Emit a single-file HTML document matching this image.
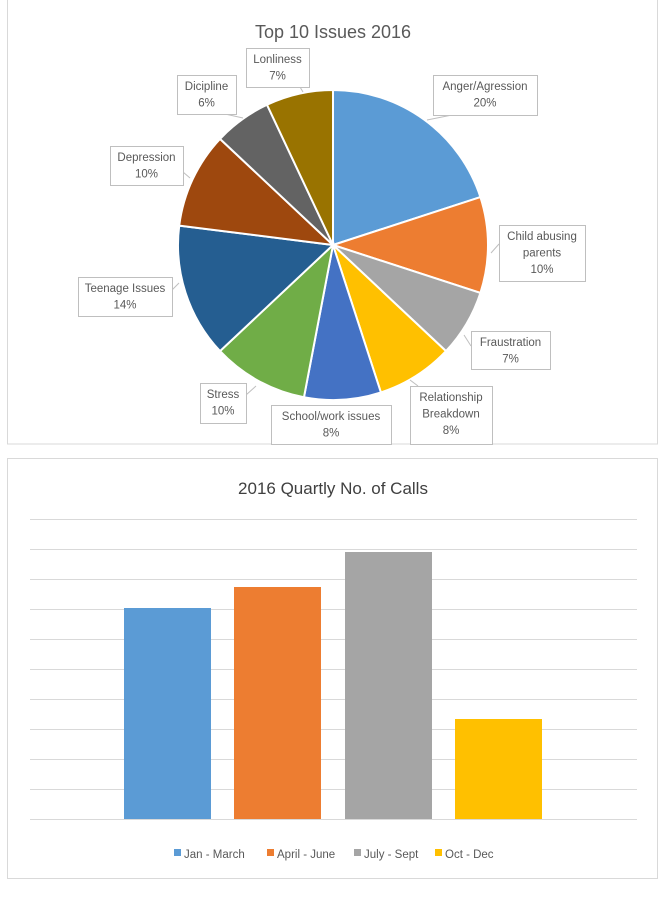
<!DOCTYPE html>
<html><head><meta charset="utf-8"><style>
body{margin:0;background:#fff;width:666px;height:893px;overflow:hidden;font-family:"Liberation Sans",sans-serif}
</style></head><body>
<svg id="s" width="666" height="893" xmlns="http://www.w3.org/2000/svg" font-family="Liberation Sans, sans-serif">
<rect x="7.5" y="-1" width="650" height="445" fill="#fff" stroke="#d9d9d9"/>
<rect x="7.5" y="458.5" width="650" height="420" fill="#fff" stroke="#d9d9d9"/>
<text x="333" y="38" text-anchor="middle" font-size="18" fill="#595959">Top 10 Issues 2016</text>
<g id="pie"></g>
<g stroke="#bfbfbf" fill="none">
<polyline points="452,115 427,120"/>
<polyline points="499,244 491,253"/>
<polyline points="471,346 464,335"/>
<polyline points="418,386 410,380"/>
<polyline points="300,87 303,92"/>
<polyline points="225,114 243,118"/>
<polyline points="183,172 190,178"/>
<polyline points="172,290 179,283"/>
<polyline points="246,395 256,386"/>
</g>
<g id="lbl" font-size="11.5" fill="#595959" text-anchor="middle"></g>
<text x="333" y="494" text-anchor="middle" font-size="17" fill="#404040">2016 Quartly No. of Calls</text>
<g stroke="#d9d9d9" stroke-width="1">
<line x1="30" x2="637" y1="519.5" y2="519.5"/><line x1="30" x2="637" y1="549.5" y2="549.5"/>
<line x1="30" x2="637" y1="579.5" y2="579.5"/><line x1="30" x2="637" y1="609.5" y2="609.5"/>
<line x1="30" x2="637" y1="639.5" y2="639.5"/><line x1="30" x2="637" y1="669.5" y2="669.5"/>
<line x1="30" x2="637" y1="699.5" y2="699.5"/><line x1="30" x2="637" y1="729.5" y2="729.5"/>
<line x1="30" x2="637" y1="759.5" y2="759.5"/><line x1="30" x2="637" y1="789.5" y2="789.5"/>
<line x1="30" x2="637" y1="819.5" y2="819.5"/>
</g>
<rect x="124" y="608" width="87" height="211" fill="#5b9bd5"/>
<rect x="234" y="587" width="87" height="232" fill="#ed7d31"/>
<rect x="345" y="552" width="87" height="267" fill="#a5a5a5"/>
<rect x="455" y="719" width="87" height="100" fill="#ffc000"/>
<g font-size="11.5" fill="#595959">
<rect x="174" y="849" width="7" height="7" fill="#5b9bd5"/><text x="184" y="858">Jan - March</text>
<rect x="267" y="849" width="7" height="7" fill="#ed7d31"/><text x="277" y="858">April - June</text>
<rect x="354" y="849" width="7" height="7" fill="#a5a5a5"/><text x="364" y="858">July - Sept</text>
<rect x="435" y="849" width="7" height="7" fill="#ffc000"/><text x="445" y="858">Oct - Dec</text>
</g>
</svg>
<script>
var cx=333,cy=245,r=155,ns="http://www.w3.org/2000/svg";
var d=[[20,"#5b9bd5"],[10,"#ed7d31"],[7,"#a5a5a5"],[8,"#ffc000"],[8,"#4472c4"],[10,"#70ad47"],[14,"#255e91"],[10,"#9e480e"],[6,"#636363"],[7,"#997300"]];
var c=0,g=document.getElementById("pie");
d.forEach(function(s){var a0=c/100*2*Math.PI,a1=(c+s[0])/100*2*Math.PI;c+=s[0];
var x0=cx+r*Math.sin(a0),y0=cy-r*Math.cos(a0),x1=cx+r*Math.sin(a1),y1=cy-r*Math.cos(a1);
var p=document.createElementNS(ns,"path");
p.setAttribute("d","M"+cx+","+cy+"L"+x0+","+y0+"A"+r+","+r+" 0 "+(s[0]>50?1:0)+" 1 "+x1+","+y1+"Z");
p.setAttribute("fill",s[1]);p.setAttribute("stroke","#fff");p.setAttribute("stroke-width","2");g.appendChild(p);});
var L=[[433,75,104,40,["Anger/Agression","20%"]],[499,225,86,56,["Child abusing","parents","10%"]],[471,331,79,38,["Fraustration","7%"]],
[410,386,82,58,["Relationship","Breakdown","8%"]],[271,405,120,39,["School/work issues","8%"]],[200,383,46,40,["Stress","10%"]],
[78,277,94,39,["Teenage Issues","14%"]],[110,146,73,39,["Depression","10%"]],[177,75,59,39,["Dicipline","6%"]],[246,48,63,39,["Lonliness","7%"]]];
var lg=document.getElementById("lbl");
L.forEach(function(b){var rc=document.createElementNS(ns,"rect");
rc.setAttribute("x",b[0]+.5);rc.setAttribute("y",b[1]+.5);rc.setAttribute("width",b[2]);rc.setAttribute("height",b[3]);
rc.setAttribute("fill","#fff");rc.setAttribute("stroke","#bfbfbf");lg.appendChild(rc);
b[4].forEach(function(t,i){var tx=document.createElementNS(ns,"text");tx.setAttribute("x",b[0]+b[2]/2);
tx.setAttribute("y",b[1]+15+i*16.5);tx.textContent=t;lg.appendChild(tx);});});
</script>
</body></html>
